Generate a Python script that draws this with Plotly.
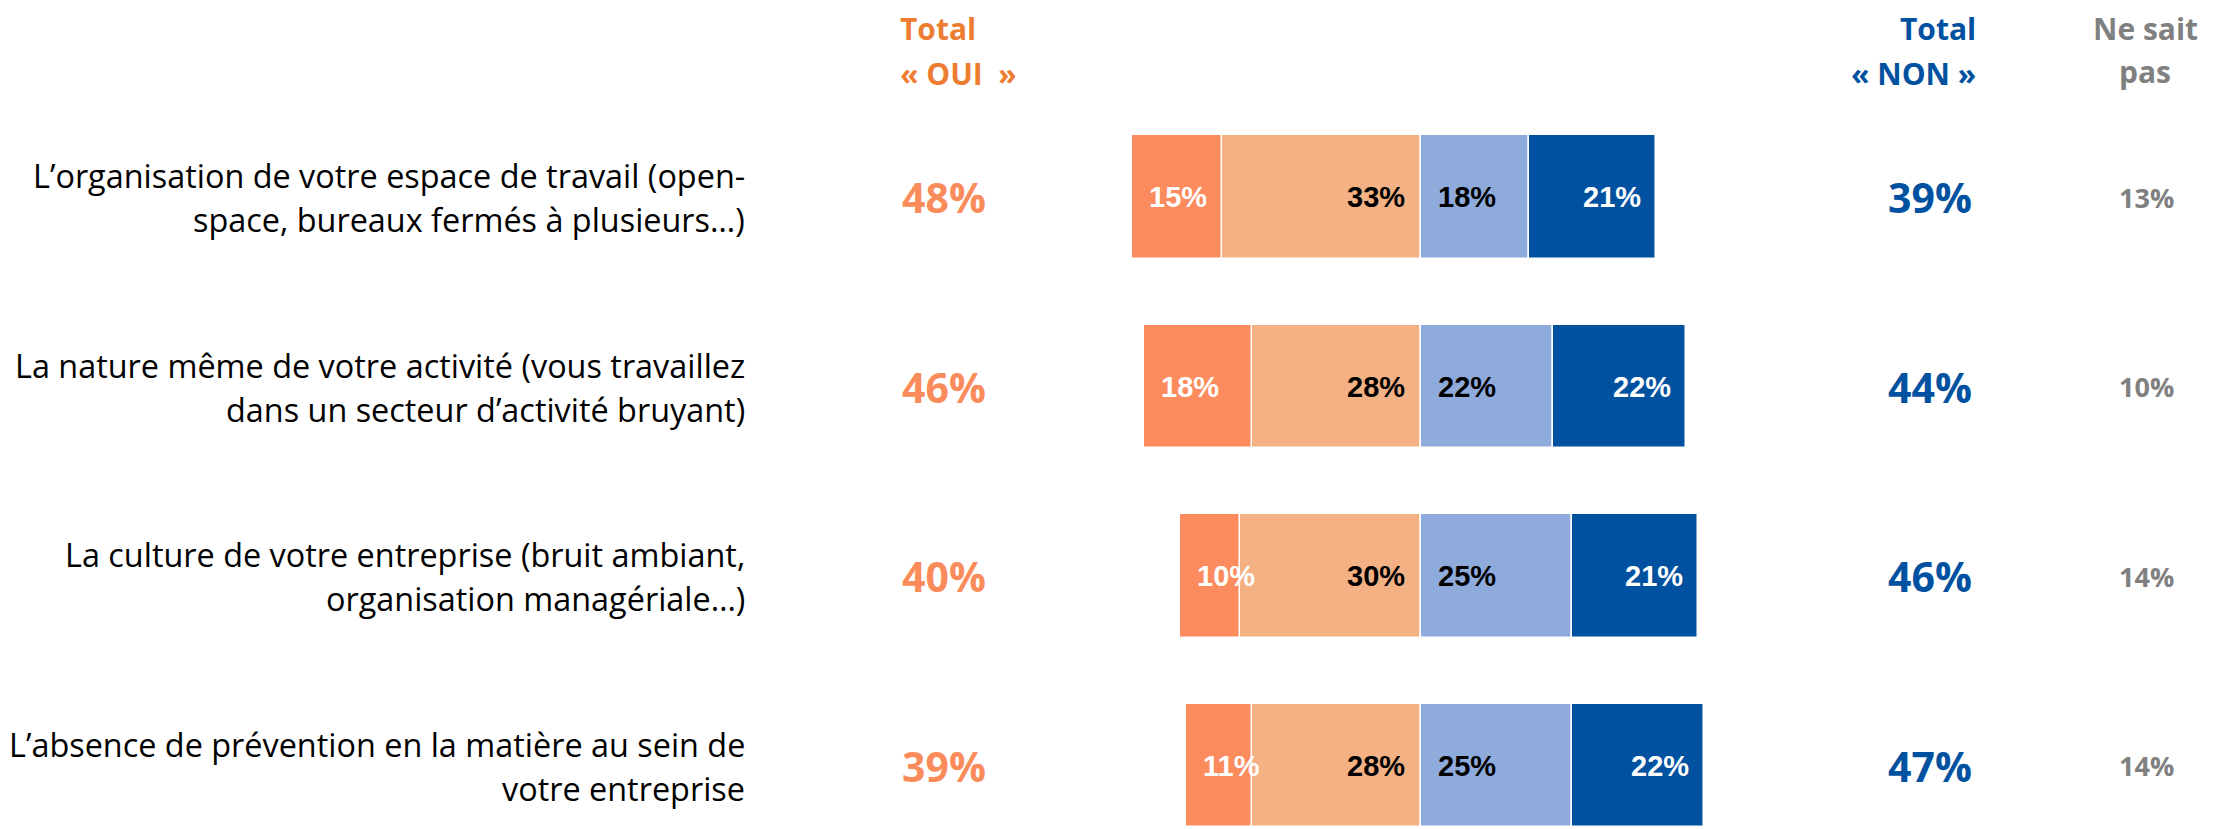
import plotly.graph_objects as go

# ---------------- data ----------------
items = [
    "L’organisation de votre espace de travail (open-\nspace, bureaux fermés à plusieurs…)",
    "La nature même de votre activité (vous travaillez\ndans un secteur d’activité bruyant)",
    "La culture de votre entreprise (bruit ambiant,\norganisation managériale…)",
    "L’absence de prévention en la matière au sein de\nvotre entreprise",
]
oui_fort = [15, 18, 10, 11]      # dark orange
oui_plutot = [33, 28, 30, 28]    # light orange
non_plutot = [18, 22, 25, 25]    # light blue
non_fort = [21, 22, 21, 22]      # dark blue
total_oui = [48, 46, 40, 39]
total_non = [39, 44, 46, 47]
nsp = [13, 10, 14, 14]

# ---------------- style ----------------
W, H = 2215, 829
C_OUI_FORT = "#FC8C5E"
C_OUI_PLUTOT = "#F3B184"
C_NON_PLUTOT = "#8FABDC"
C_NON_FORT = "#00519F"
C_HEAD_OUI = "#ED7D31"
C_VAL_OUI = "#FA8B5B"
C_NON = "#0051A0"
C_GREY = "#808080"
TXT_FONT = "Open Sans"
LBL_FONT = "Liberation Sans"

rows = list(range(len(items)))

# pixel layout -> axis ranges
zero_px, px_per_pct = 1421.0, 6.02
x0 = -zero_px / px_per_pct
x1 = x0 + W / px_per_pct
row0_px, row_step = 197.0, 189.5
y0 = -row0_px / row_step
y1 = y0 + H / row_step

fig = go.Figure()
line = dict(color="white", width=1.5)
fig.add_trace(go.Bar(y=rows, x=[-v for v in oui_plutot], orientation="h", width=0.65,
                     marker=dict(color=C_OUI_PLUTOT, line=line), hoverinfo="skip"))
fig.add_trace(go.Bar(y=rows, x=[-v for v in oui_fort], orientation="h", width=0.65,
                     marker=dict(color=C_OUI_FORT, line=line), hoverinfo="skip"))
fig.add_trace(go.Bar(y=rows, x=non_plutot, orientation="h", width=0.65,
                     marker=dict(color=C_NON_PLUTOT, line=line), hoverinfo="skip"))
fig.add_trace(go.Bar(y=rows, x=non_fort, orientation="h", width=0.65,
                     marker=dict(color=C_NON_FORT, line=line), hoverinfo="skip"))

ann = []
seg_font = lambda c: dict(family=LBL_FONT, size=29, color=c, weight="bold")
for i in rows:
    left_edge = -(oui_fort[i] + oui_plutot[i])
    right_edge = non_plutot[i] + non_fort[i]
    ann.append(dict(x=left_edge, y=i, xref="x", yref="y", text=f"{oui_fort[i]}%",
                    xanchor="left", yanchor="middle", xshift=15, showarrow=False,
                    font=seg_font("white")))
    ann.append(dict(x=0, y=i, xref="x", yref="y", text=f"{oui_plutot[i]}%",
                    xanchor="right", yanchor="middle", xshift=-14, showarrow=False,
                    font=seg_font("black")))
    ann.append(dict(x=0, y=i, xref="x", yref="y", text=f"{non_plutot[i]}%",
                    xanchor="left", yanchor="middle", xshift=15, showarrow=False,
                    font=seg_font("black")))
    ann.append(dict(x=right_edge, y=i, xref="x", yref="y", text=f"{non_fort[i]}%",
                    xanchor="right", yanchor="middle", xshift=-13, showarrow=False,
                    font=seg_font("white")))
    # row label (two lines)
    lines = items[i].split("\n")
    for k, t in enumerate(lines):
        ann.append(dict(x=747 / W, y=i, xref="paper", yref="y", text=t,
                        xanchor="right", yanchor="middle", showarrow=False,
                        yshift=22 - 44 * k,
                        font=dict(family=TXT_FONT, size=32.4, color="black")))
    # totals
    ann.append(dict(x=900 / W, y=i, xref="paper", yref="y", text=f"{total_oui[i]}%",
                    xanchor="left", yanchor="middle", showarrow=False,
                    font=dict(family=TXT_FONT, size=41, color=C_VAL_OUI, weight="bold")))
    ann.append(dict(x=1974 / W, y=i, xref="paper", yref="y", text=f"{total_non[i]}%",
                    xanchor="right", yanchor="middle", showarrow=False,
                    font=dict(family=TXT_FONT, size=41, color=C_NON, weight="bold")))
    ann.append(dict(x=2146 / W, y=i, xref="paper", yref="y", text=f"{nsp[i]}%",
                    xanchor="center", yanchor="middle", showarrow=False,
                    font=dict(family=TXT_FONT, size=27, color=C_GREY, weight="bold")))

# column headers
head_font = lambda c: dict(family=TXT_FONT, size=30, color=c, weight="bold")
headers = [
    ("Total", 898, "left", 28, C_HEAD_OUI),
    ("«\u00a0OUI\u00a0\u00a0»", 898, "left", 74, C_HEAD_OUI),
    ("Total", 1978, "right", 28, C_NON),
    ("«\u00a0NON\u00a0»", 1978, "right", 74, C_NON),
    ("Ne sait", 2145, "center", 28, C_GREY),
    ("pas", 2145, "center", 72, C_GREY),
]
for t, xp, xa, yp, c in headers:
    ann.append(dict(x=xp / W, y=1 - yp / H, xref="paper", yref="paper", text=t,
                    xanchor=xa, yanchor="middle", showarrow=False, font=head_font(c)))

fig.update_layout(
    width=W, height=H,
    margin=dict(l=0, r=0, t=0, b=0),
    paper_bgcolor="white", plot_bgcolor="white",
    barmode="relative", bargap=0, showlegend=False,
    xaxis=dict(range=[x0, x1], visible=False, fixedrange=True),
    yaxis=dict(range=[y1, y0], visible=False, fixedrange=True),
    annotations=ann,
)

fig.write_html("out.html", config={"displayModeBar": False},
               post_script="document.body.style.margin='0';document.body.style.overflow='hidden';")
